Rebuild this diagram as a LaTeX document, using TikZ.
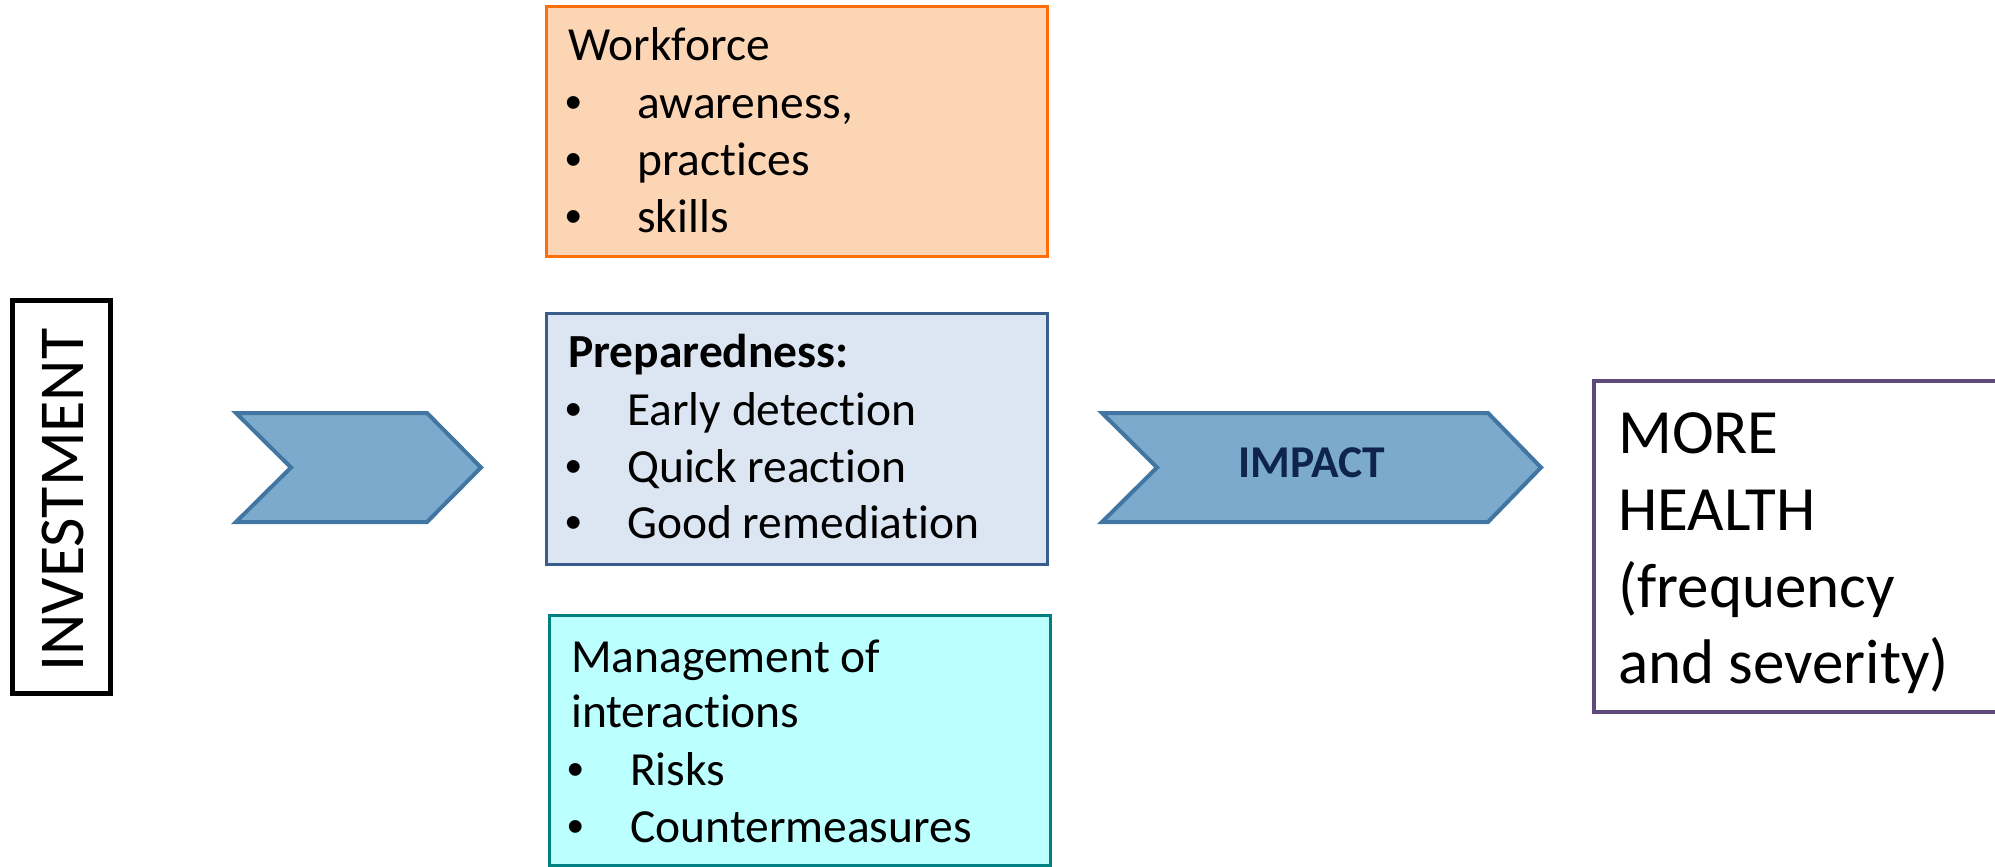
\documentclass[tikz,border=0pt]{standalone}
\usepackage{fontspec}
\setmainfont{Carlito}[Ligatures=NoCommon]
\newfontfamily\bulletfont{Liberation Sans}
\definecolor{orfill}{RGB}{252,213,181}
\definecolor{ordraw}{RGB}{255,108,10}
\definecolor{prfill}{RGB}{220,230,242}
\definecolor{prdraw}{RGB}{56,93,138}
\definecolor{mgfill}{RGB}{187,255,255}
\definecolor{mgdraw}{RGB}{0,128,128}
\definecolor{chfill}{RGB}{124,170,204}
\definecolor{chdraw}{RGB}{65,118,163}
\definecolor{hedraw}{RGB}{96,74,123}
\definecolor{impact}{RGB}{15,36,75}
\tikzset{
  x=1pt, y=-1pt,
  txt/.style={anchor=base west, inner sep=0pt, font=\fontsize{47.5}{57}\selectfont},
  bul/.style={anchor=base, inner sep=0pt, font=\bulletfont\fontsize{47}{57}\selectfont},
  big/.style={anchor=base west, inner sep=0pt, font=\fontsize{63}{77}\selectfont},
  chev/.style={fill=chfill, draw=chdraw, line width=4pt, line join=miter},
  box/.style={line width=3pt}
}
\begin{document}
\begin{tikzpicture}
\useasboundingbox (0,0) rectangle (1995,867);
% INVESTMENT
\draw[line width=5pt] (12.5,300.5) rectangle (110.5,693.5);
\node[rotate=90, anchor=base, inner sep=0pt, font=\fontsize{64}{77}\selectfont] (inv) at (83,500) {INVESTMENT};
% chevron 1
\draw[chev] (236,413) -- (427,413) -- (481,467.5) -- (427,522) -- (236,522) -- (291,467.5) -- cycle;
% Workforce box
\draw[box, fill=orfill, draw=ordraw] (546.5,6.5) rectangle (1047.5,256.5);
\node[txt] (wf) at (568,60) {Workforce};
\node[bul] (wb1) at (574,118) {•};
\node[bul] (wb2) at (574,175) {•};
\node[bul] (wb3) at (574,232) {•};
\node[txt] (wf1) at (637,118) {awareness,};
\node[txt] (wf2) at (637,175) {practices};
\node[txt] (wf3) at (637,232) {skills};
% Preparedness box
\draw[box, fill=prfill, draw=prdraw] (546.5,313.5) rectangle (1047.5,564.5);
\node[txt, font=\bfseries\fontsize{47.5}{57}\selectfont] (pr) at (568,367) {Preparedness:};
\node[bul] (pb1) at (574,425) {•};
\node[bul] (pb2) at (574,482) {•};
\node[bul] (pb3) at (574,538) {•};
\node[txt] (pr1) at (627,425) {Early detection};
\node[txt] (pr2) at (627,482) {Quick reaction};
\node[txt] (pr3) at (627,538) {Good remediation};
% Management box
\draw[box, fill=mgfill, draw=mgdraw] (549,615) rectangle (1050,865);
\node[txt] (mg) at (571,672) {Management of};
\node[txt] (mg0) at (571,727) {interactions};
\node[bul] (mb1) at (576,785) {•};
\node[bul] (mb2) at (576,842) {•};
\node[txt] (mg1) at (630,785) {Risks};
\node[txt] (mg2) at (630,842) {Countermeasures};
% chevron 2
\draw[chev] (1102,413) -- (1488,413) -- (1541,467.5) -- (1488,522) -- (1102,522) -- (1157,467.5) -- cycle;
\node[anchor=base, inner sep=0pt, text=impact, font=\bfseries\fontsize{45.5}{57}\selectfont] (imp) at (1312,477) {IMPACT};
% MORE HEALTH box
\draw[line width=4pt, draw=hedraw] (2010,381) -- (1594,381) -- (1594,712) -- (2010,712);
\node[big] (h1) at (1618,453) {MORE};
\node[big] (h2) at (1618,530) {HEALTH};
\node[big] (h3) at (1618,607) {(frequency};
\node[big] (h4) at (1618,683) {and severity)};
\end{tikzpicture}
\end{document}
